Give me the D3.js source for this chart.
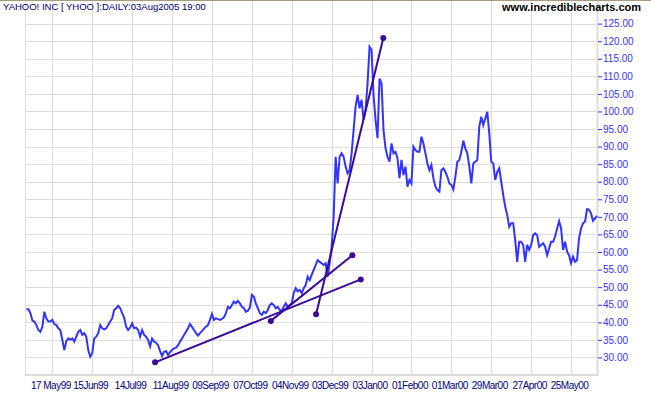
<!DOCTYPE html>
<html>
<head>
<meta charset="utf-8">
<script src="https://cdn.jsdelivr.net/npm/d3@7"></script>
<style>
    body { margin: 0; background: #fff; }
    svg text { font-family: "Liberation Sans", Arial, sans-serif; }
</style>
</head>
<body>
<svg id="chart" width="651" height="395" viewBox="0 0 651 395"></svg>
<script>
// daily closes, one per trading day (index 0 = 28Apr99)
const closes = [
    43.7, 43.7, 42.6, 40.5, 40.2, 39.2, 37.8, 37.3, 38.7, 43.0,
    41.1, 40.2, 40.2, 40.7, 39.5, 39.2, 38.3, 37.8, 35.0, 32.1,
    34.6, 35.4, 35.0, 35.4, 34.5, 35.9, 37.3, 37.8, 36.4, 36.9,
    35.9, 32.1, 30.2, 31.2, 35.4, 35.9, 36.9, 39.2, 38.3, 38.0,
    38.3, 39.2, 40.2, 41.1, 43.5, 44.0, 44.7, 44.0, 42.6, 41.3,
    38.7, 37.8, 38.5, 39.7, 38.3, 38.5, 37.8, 35.9, 37.8, 36.4,
    35.9, 35.0, 33.1, 35.4, 34.5, 34.2, 33.5, 31.8, 30.4, 31.6,
    31.8, 30.7, 31.5, 32.1, 32.6, 32.8, 33.5, 34.5, 35.4, 36.4,
    37.3, 38.3, 39.5, 38.7, 37.8, 36.9, 36.2, 36.9, 37.5, 38.2,
    38.7, 39.2, 40.7, 42.4, 40.7, 41.1, 40.9, 40.7, 41.0, 41.4,
    42.6, 44.4, 44.0, 44.9, 45.9, 45.4, 46.1, 45.4, 44.4, 44.0,
    43.0, 43.3, 44.2, 47.8, 47.3, 45.4, 44.0, 42.6, 42.1, 43.0,
    42.6, 43.5, 44.9, 45.4, 44.9, 44.0, 44.4, 43.5, 43.3, 44.4,
    45.4, 44.4, 44.9, 45.4, 48.3, 49.7, 48.8, 49.2, 48.3, 49.7,
    50.6, 53.0, 52.0, 53.5, 54.9, 56.3, 57.7, 57.2, 56.8, 56.3,
    56.8, 53.0, 56.8, 61.5, 70.0, 87.1, 79.5, 87.1, 88.1, 87.1,
    84.3, 82.4, 83.3, 88.0, 94.7, 101.4, 104.7, 100.9, 103.3, 97.6,
    100.4, 108.0, 118.4, 117.5, 104.6, 97.6, 92.4, 109.3, 108.0, 94.7,
    89.5, 87.1, 85.7, 90.9, 88.1, 88.5, 86.7, 81.0, 86.2, 81.9,
    84.3, 78.6, 80.5, 79.5, 90.0, 89.0, 88.5, 88.5, 92.8, 90.9,
    88.1, 85.2, 83.3, 84.8, 81.0, 78.6, 77.6, 77.2, 83.3, 83.8,
    82.8, 81.4, 79.5, 79.1, 77.8, 81.4, 85.7, 86.2, 88.5, 91.7,
    89.5, 88.1, 84.3, 79.5, 85.2, 85.7, 86.2, 95.7, 98.5, 96.1,
    98.0, 99.9, 93.8, 85.7, 85.2, 80.5, 82.8, 83.8, 80.0, 76.2,
    72.9, 70.5, 67.2, 68.2, 68.2, 63.4, 57.2, 62.9, 62.9, 62.0,
    57.2, 62.0, 60.6, 62.0, 64.8, 65.3, 64.8, 61.5, 62.0, 62.5,
    61.5, 59.1, 61.0, 62.9, 62.9, 64.4, 66.7, 68.8, 66.7, 60.6,
    62.9, 60.1, 59.1, 56.8, 58.7, 57.2, 57.7, 63.9, 66.7, 68.2,
    68.6, 72.2, 72.0, 71.0, 68.9, 69.6, 70.3
];

// x axis: trading-day index of each gridline and its date label
const tickDays = [13, 33, 53, 73, 93, 113, 133, 153, 173, 193, 213, 233, 253, 273];
const tickLabels = ["17 May99", "15Jun99", "14Jul99", "11Aug99", "09Sep99", "07Oct99", "04Nov99",
    "03Dec99", "03Jan00", "01Feb00", "01Mar00", "29Mar00", "27Apr00", "25May00"];

// y axis price levels
const priceTicks = d3.range(30, 126, 5);

// hand drawn trend lines: [startDay, startPrice, endDay, endPrice]
const trendLines = [
    [64.5, 28.6, 167.6, 52.2],
    [122.5, 40.4, 163.4, 59.1],
    [145.2, 42.3, 178.9, 120.9]
];

const titleText = "YAHOO! INC [ YHOO ]:DAILY:03Aug2005 19:00";
const siteText = "www.incrediblecharts.com";

class PriceChartVis {

    constructor(_parentElement, _data) {
        this.parentElement = _parentElement;
        this.data = _data;
        this.initVis();
    }

    initVis() {
        let vis = this;

        vis.svg = d3.select("#" + vis.parentElement);
        vis.left = 25.7;
        vis.right = 597.5;
        vis.bottom = 375;

        vis.x = d3.scaleLinear()
            .domain([0, 286])
            .range([26.4, 597]);

        vis.y = d3.scaleLinear()
            .domain([25, 125])
            .range([375, 23.6]);

        // top border line
        vis.svg.append("line")
            .attr("x1", 0).attr("x2", 651)
            .attr("y1", 0.5).attr("y2", 0.5)
            .attr("stroke", "#a89c80")
            .attr("stroke-width", 1);

        vis.grid = vis.svg.append("g").attr("class", "grid");
        vis.plotArea = vis.svg.append("g").attr("class", "plot-area");

        vis.updateVis();
    }

    updateVis() {
        let vis = this;
        const gridColor = "#dddddd";

        // horizontal gridlines
        vis.grid.selectAll(".hgrid")
            .data(priceTicks)
            .enter().append("line")
            .attr("class", "hgrid")
            .attr("x1", vis.left).attr("x2", vis.right)
            .attr("y1", d => Math.round(vis.y(d)) + 0.5)
            .attr("y2", d => Math.round(vis.y(d)) + 0.5)
            .attr("stroke", gridColor);

        // vertical gridlines
        vis.grid.selectAll(".vgrid")
            .data(tickDays)
            .enter().append("line")
            .attr("class", "vgrid")
            .attr("x1", d => Math.round(vis.x(d)) + 0.5)
            .attr("x2", d => Math.round(vis.x(d)) + 0.5)
            .attr("y1", 1).attr("y2", vis.bottom)
            .attr("stroke", gridColor);

        // frame: left, right, bottom
        vis.grid.append("line")
            .attr("x1", 25.5).attr("x2", 25.5).attr("y1", 1).attr("y2", vis.bottom)
            .attr("stroke", gridColor);
        vis.grid.append("line")
            .attr("x1", vis.right).attr("x2", vis.right).attr("y1", 1).attr("y2", vis.bottom + 1)
            .attr("stroke", gridColor).attr("stroke-width", 2);
        vis.grid.append("line")
            .attr("x1", 25).attr("x2", vis.right + 1).attr("y1", vis.bottom).attr("y2", vis.bottom)
            .attr("stroke", gridColor).attr("stroke-width", 2);

        // y axis on the right
        let yAxis = d3.axisRight(vis.y)
            .tickValues(priceTicks)
            .tickSize(4)
            .tickPadding(1)
            .tickFormat(d3.format(".2f"));

        let yG = vis.svg.append("g")
            .attr("transform", `translate(${vis.right + 0.5},0)`)
            .call(yAxis);
        yG.select(".domain").remove();
        yG.selectAll(".tick line").attr("stroke", "#3333ff");
        yG.selectAll(".tick text")
            .attr("fill", "#3333ff")
            .style("font-size", "10px");

        // x axis labels
        let xAxis = d3.axisBottom(vis.x)
            .tickValues(tickDays)
            .tickSize(0)
            .tickPadding(7)
            .tickFormat((d, i) => tickLabels[i]);

        let xG = vis.svg.append("g")
            .attr("transform", `translate(-2,${vis.bottom})`)
            .call(xAxis);
        xG.select(".domain").remove();
        xG.selectAll(".tick text")
            .attr("fill", "#000080")
            .style("font-size", "10px")
            .style("letter-spacing", "-0.5px");

        // price line
        let line = d3.line()
            .x((d, i) => vis.x(i))
            .y(d => vis.y(d));

        vis.plotArea.append("path")
            .datum(vis.data)
            .attr("d", line)
            .attr("fill", "none")
            .attr("stroke", "#3333ff")
            .attr("stroke-width", 2)
            .attr("stroke-linejoin", "miter");

        // trend lines with end dots
        let trends = vis.plotArea.selectAll(".trend")
            .data(trendLines)
            .enter().append("g")
            .attr("class", "trend");

        trends.append("line")
            .attr("x1", d => vis.x(d[0])).attr("y1", d => vis.y(d[1]))
            .attr("x2", d => vis.x(d[2])).attr("y2", d => vis.y(d[3]))
            .attr("stroke", "#3a0a9a")
            .attr("stroke-width", 2);

        trends.selectAll("circle")
            .data(d => [[d[0], d[1]], [d[2], d[3]]])
            .enter().append("circle")
            .attr("cx", d => vis.x(d[0]))
            .attr("cy", d => vis.y(d[1]))
            .attr("r", 3)
            .attr("fill", "#3a0a9a");

        // title texts
        vis.svg.append("text")
            .attr("x", 3).attr("y", 10)
            .attr("fill", "#000080")
            .style("font-size", "9.5px")
            .text(titleText);

        vis.svg.append("text")
            .attr("x", 641).attr("y", 11)
            .attr("text-anchor", "end")
            .attr("fill", "#000")
            .style("font-size", "11px")
            .style("font-weight", "bold")
            .text(siteText);
    }
}

let priceChart = new PriceChartVis("chart", closes);
</script>
</body>
</html>
